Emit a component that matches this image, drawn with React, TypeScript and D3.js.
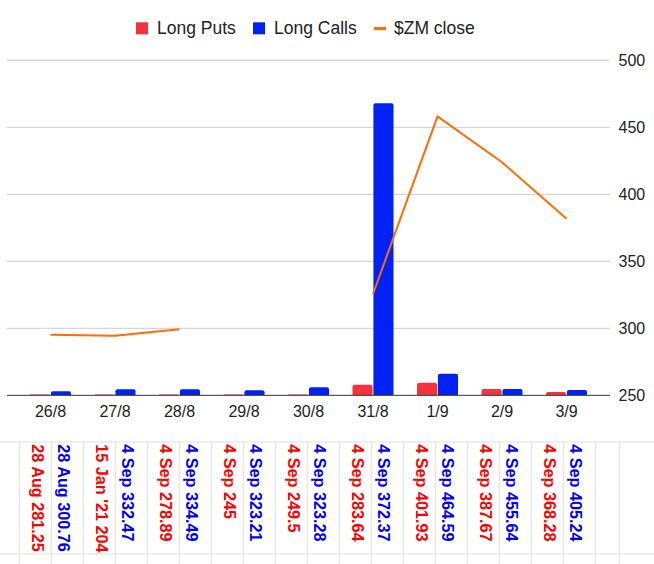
import React from "react";
import * as d3 from "d3";

const categories = ["26/8", "27/8", "28/8", "29/8", "30/8", "31/8", "1/9", "2/9", "3/9"];
const longPuts = [0.6, 0.6, 0.6, 0.6, 0.6, 7.9, 9.4, 4.7, 2.5];
const longCalls = [3.0, 4.5, 4.5, 3.7, 6.0, 217.9, 16.1, 4.7, 4.0];
const zmClose: (number | null)[] = [295.2, 294.5, 299.3, null, null, 325.6, 458.2, 423.9, 381.8];
const yTicks = [250, 300, 350, 400, 450, 500];
const putLabels = [
  "28 Aug 281.25", "15 Jan '21 204", "4 Sep 278.89", "4 Sep 245", "4 Sep 249.5",
  "4 Sep 283.64", "4 Sep 401.93", "4 Sep 387.67", "4 Sep 368.28",
];
const callLabels = [
  "28 Aug 300.76", "4 Sep 332.47", "4 Sep 334.49", "4 Sep 323.21", "4 Sep 323.28",
  "4 Sep 372.37", "4 Sep 464.59", "4 Sep 455.64", "4 Sep 405.24",
];

const W = 654;
const H = 564;
const FONT = "'Liberation Sans', Arial, Helvetica, sans-serif";
const RED = "#f5333c";
const BLUE = "#0022f5";
const ORANGE = "#ff6d01";
const TXT_RED = "#ff0000";
const TXT_BLUE = "#0000ff";

function topRounded(x: number, y: number, w: number, h: number, r: number) {
  const rr = Math.min(r, h, w / 2);
  if (h <= 0) return "";
  return `M${x},${y + h}V${y + rr}Q${x},${y} ${x + rr},${y}H${x + w - rr}Q${x + w},${y} ${x + w},${y + rr}V${y + h}Z`;
}

export default function App() {
  const yTop = 60.3;
  const yBase = 395.3;
  const x = d3.scaleBand<string>().domain(categories).range([18.25, 598.75]).padding(0);
  const y = d3.scaleLinear().domain([250, 500]).range([yBase, yTop]);
  const yBar = d3.scaleLinear().domain([0, 250]).range([yBase, yTop]);
  const series = ["puts", "calls"];
  const x1 = d3.scaleBand<string>().domain(series).range([0, 41]).paddingInner(0.04);
  const center = (c: string) => (x(c) as number) + x.bandwidth() / 2;

  const line = d3
    .line<number | null>()
    .defined((d) => d !== null)
    .x((_, i) => center(categories[i]))
    .y((d) => y(d as number));

  const colW = 32;
  const tableLeft = 19.3;
  const vLines: number[] = [];
  for (let k = 0; k <= 18; k++) vLines.push(tableLeft + k * colW);
  vLines.push(619.3);

  const legend = [
    { key: "Long Puts", type: "sq", color: RED, mx: 136, tx: 157 },
    { key: "Long Calls", type: "sq", color: BLUE, mx: 253, tx: 274 },
    { key: "$ZM close", type: "ln", color: ORANGE, mx: 374, tx: 394 },
  ];

  return (
    <svg
      width={W}
      height={H}
      style={{ position: "absolute", left: 0, top: 0, background: "#fff" }}
      fontFamily={FONT}
    >
      <rect x={0} y={0} width={W} height={H} fill="#fff" />
      {/* legend */}
      {legend.map((l) => (
        <g key={l.key}>
          {l.type === "sq" ? (
            <rect x={l.mx} y={22.3} width={12} height={12} fill={l.color} />
          ) : (
            <rect x={l.mx} y={27} width={12} height={3} fill={l.color} />
          )}
          <text x={l.tx} y={34} fontSize={17.5} fill="#222">
            {l.key}
          </text>
        </g>
      ))}
      {/* gridlines */}
      {yTicks.map((t) => (
        <g key={t}>
          {t !== 250 && (
            <line x1={7} x2={610} y1={y(t)} y2={y(t)} stroke="#cccccc" strokeWidth={1} />
          )}
          <text x={618.5} y={y(t)} dy="0.35em" fontSize={16} fill="#222">
            {t}
          </text>
        </g>
      ))}
      {/* bars */}
      {categories.map((c, i) => {
        const cx = center(c) - 20.5;
        const hp = yBase - yBar(longPuts[i]);
        const hc = yBase - yBar(longCalls[i]);
        return (
          <g key={c}>
            <path d={topRounded(cx + (x1("puts") as number), yBar(longPuts[i]), x1.bandwidth(), hp, 2)} fill={RED} />
            <path d={topRounded(cx + (x1("calls") as number), yBar(longCalls[i]), x1.bandwidth(), hc, 2)} fill={BLUE} />
          </g>
        );
      })}
      {/* baseline */}
      <line x1={7} x2={610} y1={yBase} y2={yBase} stroke="#333" strokeWidth={1} />
      {/* close line */}
      <path d={line(zmClose) || ""} fill="none" stroke={ORANGE} strokeWidth={2} strokeLinejoin="round" />
      {/* x labels */}
      {categories.map((c) => (
        <text key={c} x={center(c)} y={417.3} textAnchor="middle" fontSize={16} fill="#222">
          {c}
        </text>
      ))}
      {/* table grid */}
      <line x1={0} x2={W} y1={442} y2={442} stroke="#e0e0e0" strokeWidth={1} />
      <line x1={0} x2={W} y1={554} y2={554} stroke="#e0e0e0" strokeWidth={1} />
      {vLines.map((vx, k) => (
        <line key={k} x1={vx} x2={vx} y1={442} y2={H} stroke="#e0e0e0" strokeWidth={1} />
      ))}
      {/* table text */}
      {categories.map((c, i) => {
        const rx = tableLeft + i * 2 * colW + colW / 2 + 2.7;
        const bx = tableLeft + i * 2 * colW + colW * 1.5 - 3;
        const ty = 444.3;
        return (
          <g key={"t" + c} fontSize={16.2} fontWeight="bold">
            <text transform={`translate(${rx},${ty}) rotate(90)`} dy="0.36em" fill={TXT_RED}>
              {putLabels[i]}
            </text>
            <text transform={`translate(${bx},${ty}) rotate(90)`} dy="0.36em" fill={TXT_BLUE}>
              {callLabels[i]}
            </text>
          </g>
        );
      })}
    </svg>
  );
}
